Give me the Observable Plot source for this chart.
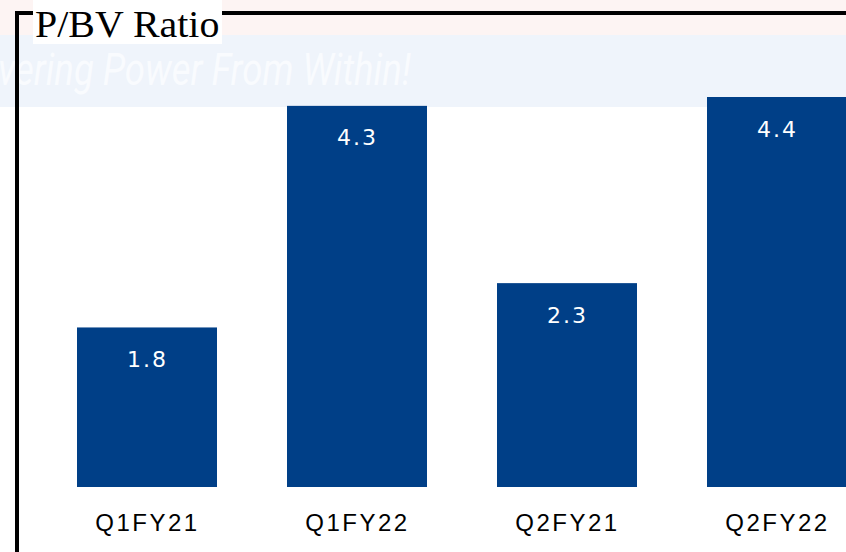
<!DOCTYPE html>
<html>
<head>
<meta charset="utf-8">
<script src="https://cdn.jsdelivr.net/npm/d3@7"></script>
<script src="https://cdn.jsdelivr.net/npm/@observablehq/plot@0.6"></script>
<style>
  html, body { margin: 0; padding: 0; background: #ffffff; }
  #wrap { position: relative; width: 846px; height: 552px; overflow: hidden; background: #ffffff; }
  .band-pink { position: absolute; left: 0; top: 0; width: 846px; height: 35px; background: #fdf4f3; }
  .band-blue { position: absolute; left: 0; top: 35px; width: 846px; height: 72px; background: #eff4fb; }
  .watermark { position: absolute; left: -2px; top: 48px; font-family: Roboto, sans-serif; font-style: italic;
    font-size: 44px; line-height: 1; color: #f9fbfe; white-space: nowrap; transform: scaleX(0.83); transform-origin: left top; }
  #chart { position: absolute; left: 0; top: 0; }
  .frame { position: absolute; left: 15px; top: 11px; width: 840px; height: 560px;
    border-left: 4px solid #000; border-top: 4px solid #000; box-sizing: border-box; }
  .title { position: absolute; left: 33px; top: 0; height: 44px; width: 189px; background: #ffffff; }
  .title span { position: absolute; left: 2px; top: 5px; font-family: "Liberation Serif", serif; font-size: 38px;
    color: #000; white-space: nowrap; transform: scaleX(1.05); transform-origin: left top; line-height: 1; }
</style>
</head>
<body>
<div id="wrap">
  <div class="band-pink"></div>
  <div class="band-blue"></div>
  <div class="watermark">vering Power From Within!</div>
  <div id="chart"></div>
  <div class="frame"></div>
  <div class="title"><span>P/BV Ratio</span></div>
</div>
<script>
const categories = ["Q1FY21", "Q1FY22", "Q2FY21", "Q2FY22"];
const values = [1.8, 4.3, 2.3, 4.4];
const labels = ["1.8", "4.3", "2.3", "4.4"];

const data = categories.map((c, i) => ({cat: c, value: values[i], label: labels[i]}));

const plot = Plot.plot({
  width: 846,
  height: 552,
  style: {background: "transparent", overflow: "visible"},
  x: {domain: categories, range: [40.7, 882.7], paddingInner: 0.335, paddingOuter: 0.1675, axis: null},
  y: {domain: [0, 4.4], range: [487, 97], axis: null},
  marks: [
    Plot.barY(data, {x: "cat", y: "value", fill: "#003f87"}),
    Plot.text(data, {x: "cat", y: "value", text: "label", dy: 32, fill: "#ffffff",
      fontSize: 22, fontFamily: "DejaVu Sans", lineAnchor: "middle", className: "vlabel"}),
    Plot.text(data, {x: "cat", y: () => 0, text: "cat", dy: 36, fill: "#000000",
      fontSize: 24, fontFamily: "Liberation Sans", lineAnchor: "middle", className: "clabel"})
  ]
});
d3.select(plot).selectAll(".vlabel text").style("letter-spacing", "2px");
d3.select(plot).selectAll(".clabel text").style("letter-spacing", "2.5px");
document.getElementById("chart").appendChild(plot);
</script>
</body>
</html>
